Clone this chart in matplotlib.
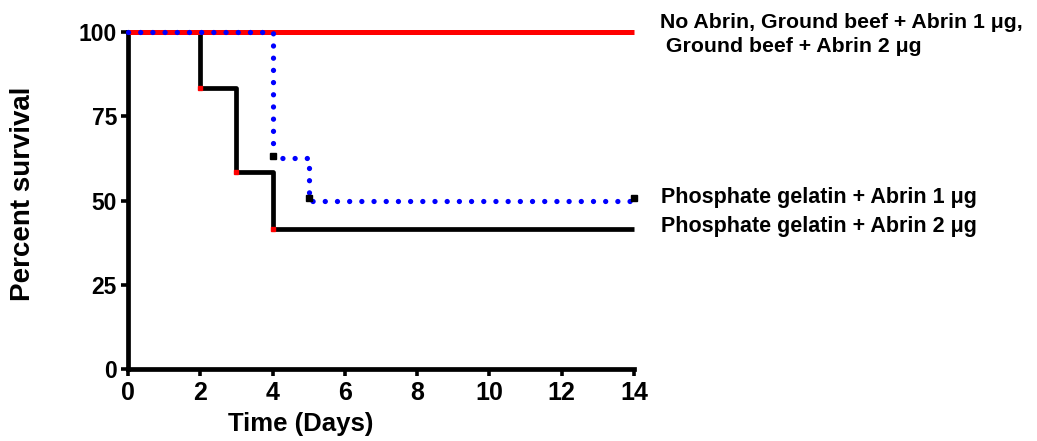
import matplotlib
matplotlib.use("Agg")
import matplotlib.pyplot as plt
from matplotlib import font_manager

# ---- data ----
days_black = [0, 2, 3, 4, 14]
surv_black = [100, 83.33, 58.33, 41.67, 41.67]
days_blue = [0, 4, 5, 14]
surv_blue = [100, 62.5, 50, 50]
days_red = [0, 14]
surv_red = [100, 100]
xticks = [0, 2, 4, 6, 8, 10, 12, 14]
yticks = [0, 25, 50, 75, 100]
label_red = ["No Abrin, Ground beef + Abrin 1 \u03bcg,", " Ground beef + Abrin 2 \u03bcg"]
label_blue = "Phosphate gelatin + Abrin 1 \u03bcg"
label_black = "Phosphate gelatin + Abrin 2 \u03bcg"

names = {f.name for f in font_manager.fontManager.ttflist}
main_font = "Liberation Sans" if "Liberation Sans" in names else "DejaVu Sans"
narrow_font = "Liberation Sans Narrow" if "Liberation Sans Narrow" in names else main_font
plt.rcParams['font.family'] = [main_font, 'DejaVu Sans']

W, H = 1037, 441
fig = plt.figure(figsize=(W / 100, H / 100), dpi=100)
ax = fig.add_axes([128 / W, 1 - 369 / H, (634 - 128) / W, (369 - 32) / H])

# curves
ax.step(days_black, surv_black, where='post', color='black', lw=3.4,
        clip_on=False, zorder=3, solid_capstyle='butt')
ax.plot(days_black[1:4], surv_black[1:4], ls='none', marker='s', ms=3.4,
        color='#ff0000', clip_on=False, zorder=6)
ax.plot(days_red, surv_red, color='#ff0000', lw=3.6, clip_on=False, zorder=4,
        solid_capstyle='butt')
ax.step(days_blue, surv_blue, where='post', color='#0000ff', lw=3.8,
        ls=(0, (0.01, 2.3)), dash_capstyle='round', clip_on=False, zorder=5)
ax.plot(days_blue[1:], [v + 0.8 for v in surv_blue[1:]], ls='none', marker='s', ms=4,
        color='black', clip_on=False, zorder=6)

ax.set_xlim(0, 14)
ax.set_ylim(0, 100)
ax.set_xticks(xticks)
ax.set_yticks(yticks)
ax.set_xticklabels([str(t) for t in xticks], fontsize=18, fontweight='bold', family=narrow_font)
ax.set_yticklabels([str(t) for t in yticks], fontsize=16.5, fontweight='bold', family=narrow_font)
for s in ['top', 'right']:
    ax.spines[s].set_visible(False)
for s in ['left', 'bottom']:
    ax.spines[s].set_linewidth(3.4)
ax.tick_params(axis='both', direction='out', length=5, width=2.6, color='black')
ax.tick_params(axis='x', pad=4)
ax.tick_params(axis='y', pad=3)

# axis labels
fig.text(23 / W, 1 - 194 / H, "Percent survival", rotation=90, ha='center', va='center',
         fontsize=20, fontweight='bold')
fig.text(301 / W, 1 - 424 / H, "Time (Days)", ha='center', va='center',
         fontsize=18.5, fontweight='bold', family=narrow_font)

# annotations
fig.text(660 / W, 1 - 28 / H, label_red[0], ha='left', va='baseline', fontsize=15.3, fontweight='bold')
fig.text(660 / W, 1 - 52 / H, label_red[1], ha='left', va='baseline', fontsize=15.3, fontweight='bold')
fig.text(661 / W, 1 - 203 / H, label_blue, ha='left', va='baseline', fontsize=15.5, fontweight='bold')
fig.text(661 / W, 1 - 232 / H, label_black, ha='left', va='baseline', fontsize=15.5, fontweight='bold')

fig.savefig("out.png", dpi=100)
